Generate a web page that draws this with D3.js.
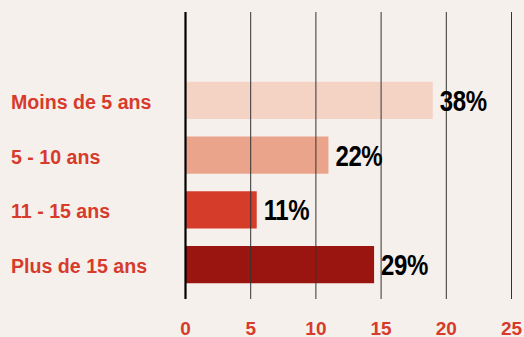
<!DOCTYPE html>
<html><head><meta charset="utf-8">
<script src="https://cdn.jsdelivr.net/npm/d3@7"></script>
<style>
html,body{margin:0;padding:0;background:#f5f0ec;}
svg{display:block;}
</style></head>
<body>
<svg id="c" width="524" height="337"></svg>
<script>
const categories = ["Moins de 5 ans", "5 - 10 ans", "11 - 15 ans", "Plus de 15 ans"];
const values = [19, 11, 5.5, 14.5];
const valueLabels = ["38%", "22%", "11%", "29%"];
const colors = ["#f4d3c5", "#e9a48b", "#d63c2a", "#9b1510"];
const tickValues = [0, 5, 10, 15, 20, 25];

const svg = d3.select("#c");
svg.append("rect").attr("width", 524).attr("height", 337).attr("fill", "#f5f0ec");

const x = d3.scaleLinear().domain([0, 25]).range([185, 511]);
const y = d3.scaleBand().domain(categories).range([73, 292]).paddingInner(0.32).paddingOuter(0.16);

// bars
svg.selectAll("rect.bar").data(categories).join("rect")
  .attr("class", "bar")
  .attr("x", x(0))
  .attr("y", d => y(d))
  .attr("width", (d, i) => x(values[i]) - x(0))
  .attr("height", y.bandwidth())
  .attr("fill", (d, i) => colors[i]);

// gridlines on top
const axis = d3.axisBottom(x).tickValues(tickValues).tickSize(0).tickPadding(0);
const gAxis = svg.append("g").call(axis);
gAxis.select(".domain").remove();
gAxis.selectAll(".tick line")
  .attr("y1", 12).attr("y2", 299)
  .attr("stroke", (d) => d === 0 ? "#000" : "#333")
  .attr("stroke-width", d => d === 0 ? 2.2 : 1);
gAxis.selectAll(".tick text")
  .attr("y", 335).attr("dy", null)
  .attr("fill", "#d63b2b")
  .style("font-family", "'Liberation Sans',Arial,sans-serif")
  .style("font-weight", "700")
  .style("font-size", "19px")
  .attr("text-anchor", "middle");

// category labels
svg.selectAll("text.cat").data(categories).join("text")
  .attr("class", "cat")
  .attr("x", 11)
  .attr("y", d => y(d) + y.bandwidth() / 2 + 8.5)
  .attr("fill", "#d63b2b")
  .style("font-family", "'Liberation Sans',Arial,sans-serif")
  .style("font-weight", "700")
  .style("font-size", "19.6px")
  .text(d => d);

// value labels (condensed via horizontal scaling)
svg.selectAll("text.val").data(categories).join("text")
  .attr("class", "val")
  .attr("transform", (d, i) => `translate(${x(values[i]) + 7},${y(d) + y.bandwidth() / 2 + 10.5}) scale(0.8,1)`)
  .attr("fill", "#000")
  .style("font-family", "'Liberation Sans',Arial,sans-serif")
  .style("font-weight", "700")
  .style("font-size", "30px")
  .style("letter-spacing", "-0.5px")
  .text((d, i) => valueLabels[i]);
</script>
</body></html>
